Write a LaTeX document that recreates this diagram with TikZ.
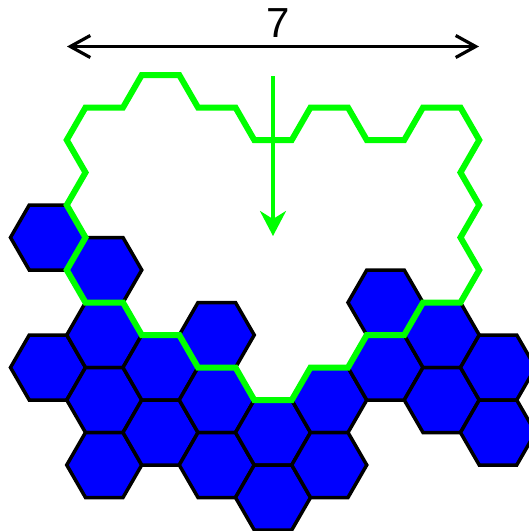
\documentclass[tikz,border=0pt]{standalone}
\usepackage{fontspec}
\setmainfont{Liberation Sans}
\usetikzlibrary{arrows.meta}
\definecolor{hexblue}{RGB}{0,0,255}
\definecolor{piecegreen}{RGB}{0,255,0}
\begin{document}
\begin{tikzpicture}[x=1pt,y=-1pt,
  hexcell/.style={fill=hexblue, draw=black, line width=3.5pt, line join=miter},
  outline/.style={draw=piecegreen, line width=6pt, line join=miter},
  dimarrow/.style={draw=black, line width=3.2pt, {Straight Barb[length=20pt,width=22pt]}-{Straight Barb[length=20pt,width=22pt]}},
  droparrow/.style={draw=piecegreen, line width=3.2pt, -{Stealth[length=25pt,width=26pt,inset=8pt]}},
  dimlabel/.style={font=\fontsize{42}{42}\selectfont, inner sep=0pt, anchor=base}]
\useasboundingbox (0,0) rectangle (529,531);
\begin{scope}[shift={(10.5,10)}, x=18.75pt, y=-32.5pt]
  \foreach \i/\j in {2/7,2/11,5/8,5/10,5/12,5/14,8/11,8/13,11/10,11/12,11/14,14/13,14/15,17/12,17/14,20/9,20/11,23/10,23/12,26/11,26/13}{
    \draw[hexcell] ({\i+2},\j) -- ({\i+1},{\j+1}) -- ({\i-1},{\j+1}) -- ({\i-2},\j) -- ({\i-1},{\j-1}) -- ({\i+1},{\j-1}) -- cycle;
  }
  \draw[outline] (3,6) -- (4,7) -- (3,8) -- (4,9) -- (6,9) -- (7,10) -- (9,10) -- (10,11) -- (12,11) -- (13,12) -- (15,12) -- (16,11) -- (18,11) -- (19,10) -- (21,10) -- (22,9) -- (24,9) -- (25,8) -- (24,7) -- (25,6) -- (24,5) -- (25,4) -- (24,3) -- (22,3) -- (21,4) -- (19,4) -- (18,3) -- (16,3) -- (15,4) -- (13,4) -- (12,3) -- (10,3) -- (9,2) -- (7,2) -- (6,3) -- (4,3) -- (3,4) -- (4,5) -- cycle;
\end{scope}
\coordinate (dropstart) at (273,76);
\coordinate (dropend) at (273,236);
\draw[droparrow] (dropstart) -- (dropend);
\coordinate (widthleft) at (67,46.5);
\coordinate (widthright) at (479,46.5);
\draw[dimarrow] (widthleft) -- (widthright);
\node[dimlabel] (widthlabel) at (278,37) {7};
\end{tikzpicture}
\end{document}
